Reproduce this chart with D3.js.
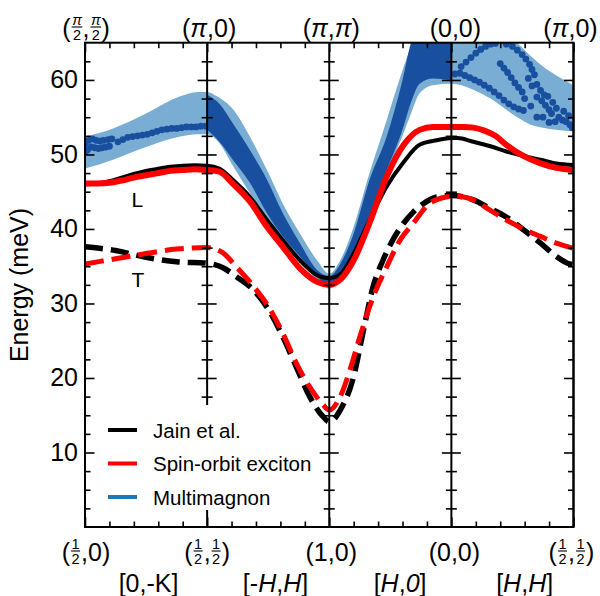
<!DOCTYPE html>
<html>
<head>
<meta charset="utf-8">
<script src="https://cdn.jsdelivr.net/npm/d3@7"></script>
<style>
  body { margin: 0; background: #fff; }
  text { font-family: "Liberation Sans", Arial, sans-serif; fill: #000; }
</style>
</head>
<body>
<svg id="chart" width="600" height="596"></svg>
<script>
// Path coordinate t: 0..4, one unit per Brillouin-zone segment.

// Jain et al. longitudinal (solid) and transverse (dashed) modes, [t, meV]
const jainL = [[0,46.0],[0.1,46.1],[0.2,46.4],[0.3,46.9],[0.4,47.4],[0.5,47.8],[0.6,48.1],[0.7,48.35],[0.8,48.5],[0.9,48.55],[1.0,48.5],
  [1.1,48.1],[1.21,46.6],[1.35,44.3],[1.49,41.2],[1.62,38.5],[1.76,35.8],[1.9,33.8],[1.96,33.45],[2.0,33.4],[2.04,33.5],[2.09,33.9],
  [2.2,36.7],[2.33,41.2],[2.47,45.7],[2.61,49.0],[2.74,51.3],[2.88,51.9],[3.0,52.2],[3.05,52.2],[3.18,51.7],[3.32,51.1],[3.45,50.4],
  [3.59,49.8],[3.73,49.3],[3.86,48.8],[4.0,48.6]];
const jainT = [[0,37.6],[0.25,37.1],[0.5,36.2],[0.75,35.6],[1.0,35.4],[1.13,34.8],[1.24,33.6],[1.38,31.8],[1.52,28.7],[1.62,25.5],
  [1.73,21.5],[1.84,17.5],[1.95,14.8],[2.0,14.1],[2.09,15.7],[2.2,20.2],[2.28,26.4],[2.36,32.3],[2.44,35.8],[2.53,38.8],[2.61,40.8],
  [2.69,42.3],[2.77,43.4],[2.88,44.3],[3.0,44.5],[3.1,44.3],[3.18,43.9],[3.3,42.9],[3.45,41.6],[3.59,39.9],[3.73,38.1],[3.86,36.3],
  [3.95,35.4],[4.0,35.2]];

// Spin-orbit exciton modes, [t, meV]
const socL = [[0,46.1],[0.1,46.1],[0.2,46.2],[0.3,46.5],[0.4,46.9],[0.5,47.2],[0.6,47.5],[0.7,47.8],[0.8,47.9],[0.9,48.0],[1.0,47.9],
  [1.1,47.7],[1.21,46.1],[1.35,43.7],[1.49,40.3],[1.62,37.6],[1.76,34.7],[1.9,32.9],[2.0,32.5],[2.09,33.2],[2.2,35.8],[2.33,40.8],
  [2.47,47.0],[2.61,51.3],[2.74,53.3],[2.85,53.7],[3.0,53.7],[3.1,53.7],[3.18,53.6],[3.27,53.2],[3.36,52.5],[3.45,51.3],[3.59,49.8],
  [3.73,48.8],[3.86,48.2],[4.0,47.9]];
const socT = [[0,35.3],[0.25,36.0],[0.5,36.7],[0.75,37.3],[1.0,37.5],[1.13,36.8],[1.24,34.9],[1.38,32.3],[1.52,29.1],[1.62,26.0],
  [1.73,22.0],[1.84,18.8],[1.95,16.4],[2.0,15.7],[2.09,17.5],[2.17,21.1],[2.25,25.5],[2.36,30.9],[2.47,34.9],[2.58,38.5],[2.69,40.8],
  [2.82,43.4],[2.96,44.3],[3.0,44.4],[3.1,44.3],[3.18,43.9],[3.3,42.7],[3.45,41.2],[3.59,40.0],[3.73,39.0],[3.86,38.1],[4.0,37.4]];

// Multimagnon continuum envelope, [t, lower meV, upper meV]
const multiBand = [[0,48.1,52.4],[0.23,49.3,53.5],[0.5,51.0,55.5],[0.78,52.4,57.8],[0.92,52.7,58.4],[1.0,52.7,58.4],
  [1.08,51.9,57.8],[1.215,48.4,56.0],[1.35,44.8,52.4],[1.49,41.2,47.9],[1.62,38.1,43.4],[1.76,35.6,39.4],[1.9,33.2,35.8],[2.0,32.0,34.0],
  [2.09,33.2,35.8],[2.2,36.0,40.3],[2.33,41.0,47.5],[2.47,47.3,54.6],[2.6,52.5,61.3],[2.67,55.5,64.5],[2.74,58.2,67],[2.85,59.3,67],[3.0,59.5,67],
  [3.18,58.7,67],[3.32,57.5,67],[3.45,56.0,66],[3.55,54.9,64.8],[3.65,54.0,63.2],[3.75,53.6,61.8],[3.86,53.3,60.6],[4.0,53.1,59.3]];

// Dense multimagnon intensity along [-H,H] and [H,0], [t, lower meV, upper meV]
const multiDense = [[1.0,53.3,58.0],[1.1,51.7,56.8],[1.21,49.3,54.2],[1.35,46.2,50.6],[1.49,42.1,46.6],[1.62,39.0,42.1],[1.76,36.3,38.1],
  [1.9,33.6,34.5],[2.0,32.4,33.7],[2.09,33.4,35.3],[2.2,36.3,39.4],[2.33,41.5,46.6],[2.47,47.8,52.4],[2.6,53.3,60.0],[2.67,57.0,65],
  [2.74,59.5,67],[2.85,60.2,67],[3.0,60.0,67]];

// Multimagnon peak positions along [0,-K], [t, meV]
const multiPeaks01 = [[0.0,51.4],[0.03,51.9],[0.06,52.1],[0.09,51.9],[0.12,51.8],[0.15,51.9],[0.19,52.0],[0.22,52.1],
  [0.0,50.3],[0.02,50.6],[0.05,51.0],[0.08,50.9],[0.11,50.8],[0.14,50.9],[0.17,51.0],[0.20,51.1],
  [0.27,51.7],[0.31,52.0],[0.35,52.3],[0.39,52.4],[0.43,52.5],[0.47,52.6],[0.51,52.7],[0.55,52.9],[0.59,53.1],[0.63,53.3],
  [0.67,53.4],[0.71,53.5],[0.75,53.5],[0.79,53.6],[0.83,53.7],[0.87,53.7],[0.91,53.7],[0.95,53.8],[0.99,53.8]];

// Multimagnon peak positions along [H,H], [t, meV]
const multiPeaksHH = [[3.03,60.8],[3.07,60.9],[3.11,60.6],[3.15,60.3],[3.19,60.0],[3.23,59.7],[3.27,59.3],[3.31,58.9],[3.35,58.4],
  [3.39,57.9],[3.43,57.3],[3.47,56.8],[3.51,56.4],[3.55,56.1],[3.59,55.9],
  [3.08,61.8],[3.12,62.4],[3.16,63.0],[3.20,63.6],[3.24,64.1],[3.28,64.5],[3.32,64.8],[3.36,64.9],
  [3.45,64.8],[3.50,64.5],[3.54,64.0],[3.58,63.4],[3.61,62.8],[3.64,62.1],[3.66,61.4],[3.68,60.7],
  [3.40,62.2],[3.43,61.6],[3.46,61.0],[3.49,60.3],[3.52,59.6],[3.55,59.0],[3.58,58.4],
  [3.63,60.2],[3.66,59.2],[3.70,59.4],[3.73,58.6],[3.70,57.7],[3.74,57.2],[3.77,56.6],[3.80,56.0],[3.76,58.0],[3.79,57.8],
  [3.83,57.0],[3.86,56.2],[3.82,55.5],[3.88,55.0],[3.91,54.6],[3.94,54.4],[3.97,54.0],[3.99,53.6],[3.85,54.4],[3.92,55.8],
  [3.96,55.2],[3.70,55.0],[3.75,55.0],[3.80,54.3],[3.65,56.5],[3.60,57.5]];

// Axis ticks
const yMajorTicks = [10, 20, 30, 40, 50, 60];
const yMinorTicks = [2.5, 5, 7.5, 12.5, 15, 17.5, 22.5, 25, 27.5, 32.5, 35, 37.5, 42.5, 45, 47.5, 52.5, 55, 57.5, 62.5];
const xMajorTicks = [0, 1, 2, 3, 4];
const xMinorTicks = [0.2, 0.4, 0.6, 0.8, 1.2, 1.4, 1.6, 1.8, 2.2, 2.4, 2.6, 2.8, 3.2, 3.4, 3.6, 3.8];

// High-symmetry point labels (top: (qx,qy) in units of 1/a; bottom: r.l.u.)
const topPoints = [
  [{t:"("},{n:"π",d:"2",ni:true},{t:","},{n:"π",d:"2",ni:true},{t:")"}],
  [{t:"("},{t:"π",i:true},{t:",0)"}],
  [{t:"("},{t:"π",i:true},{t:","},{t:"π",i:true},{t:")"}],
  [{t:"(0,0)"}],
  [{t:"("},{t:"π",i:true},{t:",0)"}]
];
const topPointShift = [1, 2, 2, 4, -3];
const bottomPoints = [
  [{t:"("},{n:"1",d:"2"},{t:",0)"}],
  [{t:"("},{n:"1",d:"2"},{t:","},{n:"1",d:"2"},{t:")"}],
  [{t:"(1,0)"}],
  [{t:"(0,0)"}],
  [{t:"("},{n:"1",d:"2"},{t:","},{n:"1",d:"2"},{t:")"}]
];
const bottomPointShift = [1, 0, 2, 3, -2];
const pathNames = [
  [{t:"[0,-K]"}],
  [{t:"[-"},{t:"H",i:true},{t:","},{t:"H",i:true},{t:"]"}],
  [{t:"["},{t:"H",i:true},{t:","},{t:"0",i:true},{t:"]"}],
  [{t:"["},{t:"H",i:true},{t:","},{t:"H",i:true},{t:"]"}]
];
const pathNameT = [0.52, 1.56, 2.58, 3.6];

const branchLabels = [{text:"L", t:0.38, e:43.0}, {text:"T", t:0.38, e:32.2}];
const legendItems = [
  {label:"Jain et al.", color:"#000000"},
  {label:"Spin-orbit exciton", color:"#ff0000"},
  {label:"Multimagnon", color:"#1f77b4"}
];

const svg = d3.select("#chart");
const x = d3.scaleLinear().domain([0, 4]).range([85, 573.5]);
const y = d3.scaleLinear().domain([0, 65]).range([527, 42.7]);

svg.append("defs").append("clipPath").attr("id", "plotClip")
  .append("rect").attr("x", x(0)).attr("y", y(65)).attr("width", x(4) - x(0)).attr("height", y(0) - y(65));

const plot = svg.append("g").attr("clip-path", "url(#plotClip)");

const band = d3.area().x(d => x(d[0])).y0(d => y(d[1])).y1(d => y(d[2])).curve(d3.curveMonotoneX);
plot.append("path").datum(multiBand).attr("d", band).attr("fill", "#79add3");
plot.append("path").datum(multiDense).attr("d", band).attr("fill", "#184f9e");

plot.selectAll("circle.pk").data(multiPeaks01.concat(multiPeaksHH)).join("circle")
  .attr("class", "pk").attr("cx", d => x(d[0])).attr("cy", d => y(d[1])).attr("r", 3.4).attr("fill", "#184f9e");

const line = d3.line().x(d => x(d[0])).y(d => y(d[1])).curve(d3.curveMonotoneX);
plot.append("path").datum(jainL).attr("d", line).attr("fill", "none").attr("stroke", "#000").attr("stroke-width", 4);
plot.append("path").datum(socL).attr("d", line).attr("fill", "none").attr("stroke", "#ff0000").attr("stroke-width", 6);
plot.append("path").datum(jainT).attr("d", line).attr("fill", "none").attr("stroke", "#000").attr("stroke-width", 5.5).attr("stroke-dasharray", "18,8");
plot.append("path").datum(socT).attr("d", line).attr("fill", "none").attr("stroke", "#ff0000").attr("stroke-width", 5).attr("stroke-dasharray", "19,8");

// L / T branch labels
svg.selectAll("text.branch").data(branchLabels).join("text").attr("class", "branch")
  .attr("x", d => x(d.t)).attr("y", d => y(d.e)).style("font-size", "21px").text(d => d.text);

// Ticks (inward) on every panel edge
function styleTicks(g) {
  g.select(".domain").remove();
  g.selectAll("line").attr("stroke", "#000").attr("stroke-width", 1.6);
}
const frame = svg.append("g");
xMajorTicks.forEach((t, i) => {
  if (i < 4) {
    frame.append("g").attr("transform", `translate(${x(t)},0)`)
      .call(d3.axisLeft(y).tickValues(yMajorTicks).tickSize(-9.5).tickSizeOuter(0).tickFormat(i === 0 ? d3.format("d") : "").tickPadding(7))
      .call(styleTicks)
      .call(g => g.selectAll("text").style("font-size", "25px").attr("font-family", null));
    frame.append("g").attr("transform", `translate(${x(t)},0)`)
      .call(d3.axisLeft(y).tickValues(yMinorTicks).tickSize(-5.5).tickSizeOuter(0).tickFormat(""))
      .call(styleTicks);
  }
  if (i > 0) {
    frame.append("g").attr("transform", `translate(${x(t)},0)`)
      .call(d3.axisRight(y).tickValues(yMajorTicks).tickSize(-9.5).tickSizeOuter(0).tickFormat(""))
      .call(styleTicks);
    frame.append("g").attr("transform", `translate(${x(t)},0)`)
      .call(d3.axisRight(y).tickValues(yMinorTicks).tickSize(-5.5).tickSizeOuter(0).tickFormat(""))
      .call(styleTicks);
  }
});
[[d3.axisBottom, y(0)], [d3.axisTop, y(65)]].forEach(([ax, yy]) => {
  frame.append("g").attr("transform", `translate(0,${yy})`)
    .call(ax(x).tickValues(xMajorTicks).tickSize(-9.5).tickSizeOuter(0).tickFormat("")).call(styleTicks);
  frame.append("g").attr("transform", `translate(0,${yy})`)
    .call(ax(x).tickValues(xMinorTicks).tickSize(-5.5).tickSizeOuter(0).tickFormat("")).call(styleTicks);
});

// Panel dividers and outer frame
xMajorTicks.forEach(t => {
  frame.append("line").attr("x1", x(t)).attr("x2", x(t)).attr("y1", y(65)).attr("y2", y(0))
    .attr("stroke", "#000").attr("stroke-width", 2);
});
frame.append("rect").attr("x", x(0)).attr("y", y(65)).attr("width", x(4) - x(0)).attr("height", y(0) - y(65))
  .attr("fill", "none").attr("stroke", "#000").attr("stroke-width", 2);

// Legend
const leg = svg.append("g");
leg.append("rect").attr("x", 99).attr("y", 405).attr("width", 214).attr("height", 105).attr("fill", "#fff");
legendItems.forEach((d, i) => {
  const yy = 430 + i * 33.5;
  leg.append("line").attr("x1", 108).attr("x2", 137).attr("y1", yy).attr("y2", yy)
    .attr("stroke", d.color).attr("stroke-width", 4);
  leg.append("text").attr("x", 153).attr("y", yy + 7.5).style("font-size", "20.5px").text(d.label);
});

// Math-style label drawn as one text element; fractions are stacked tspans with a bar
function measure(str, size, italic) {
  const t = svg.append("text").style("font-size", size + "px").style("font-style", italic ? "italic" : null).text(str);
  const w = t.node().getComputedTextLength();
  t.remove();
  return w;
}
function drawLabel(parts, cx, base, fs) {
  const fsz = fs * 0.58;
  const txt = svg.append("text").attr("x", cx).attr("y", base).attr("text-anchor", "middle").style("font-size", fs + "px");
  const bars = [];
  let charIdx = 0;
  let raised = 0;
  parts.forEach(p => {
    if (p.n !== undefined) {
      const nw = measure(p.n, fsz, p.ni), dw = measure(p.d, fsz, false);
      const w = Math.max(nw, dw);
      txt.append("tspan").style("font-size", fsz + "px").style("font-style", p.ni ? "italic" : null)
        .attr("dx", 1.5 + (w - nw) / 2).attr("dy", -fs * 0.47 - raised).text(p.n);
      txt.append("tspan").style("font-size", fsz + "px")
        .attr("dx", -(nw + dw) / 2).attr("dy", fs * 0.58).text(p.d);
      raised = fs * 0.11;
      bars.push({idx: charIdx, w: w});
      charIdx += p.n.length + p.d.length;
    } else {
      txt.append("tspan").style("font-style", p.i ? "italic" : null)
        .attr("dx", bars.length && raised ? 1.5 : 0).attr("dy", -raised).text(p.t);
      raised = 0;
      charIdx += p.t.length;
    }
  });
  bars.forEach(b => {
    const nwReal = txt.node().getSubStringLength(b.idx, 1);
    const sx = txt.node().getStartPositionOfChar(b.idx).x;
    const c = sx + nwReal / 2;
    svg.append("line").attr("x1", c - b.w / 2 - 0.5).attr("x2", c + b.w / 2 + 0.5)
      .attr("y1", base - fs * 0.4).attr("y2", base - fs * 0.4).attr("stroke", "#000").attr("stroke-width", 1.1);
  });
}
topPoints.forEach((p, i) => drawLabel(p, x(xMajorTicks[i]) + topPointShift[i], 37, 25));
bottomPoints.forEach((p, i) => drawLabel(p, x(xMajorTicks[i]) + bottomPointShift[i], 561, 25));
pathNames.forEach((p, i) => drawLabel(p, x(pathNameT[i]), 592, 25));

// Y axis title
svg.append("text").attr("transform", `translate(28,285) rotate(-90)`)
  .attr("text-anchor", "middle").style("font-size", "25px").text("Energy (meV)");
</script>
</body>
</html>
